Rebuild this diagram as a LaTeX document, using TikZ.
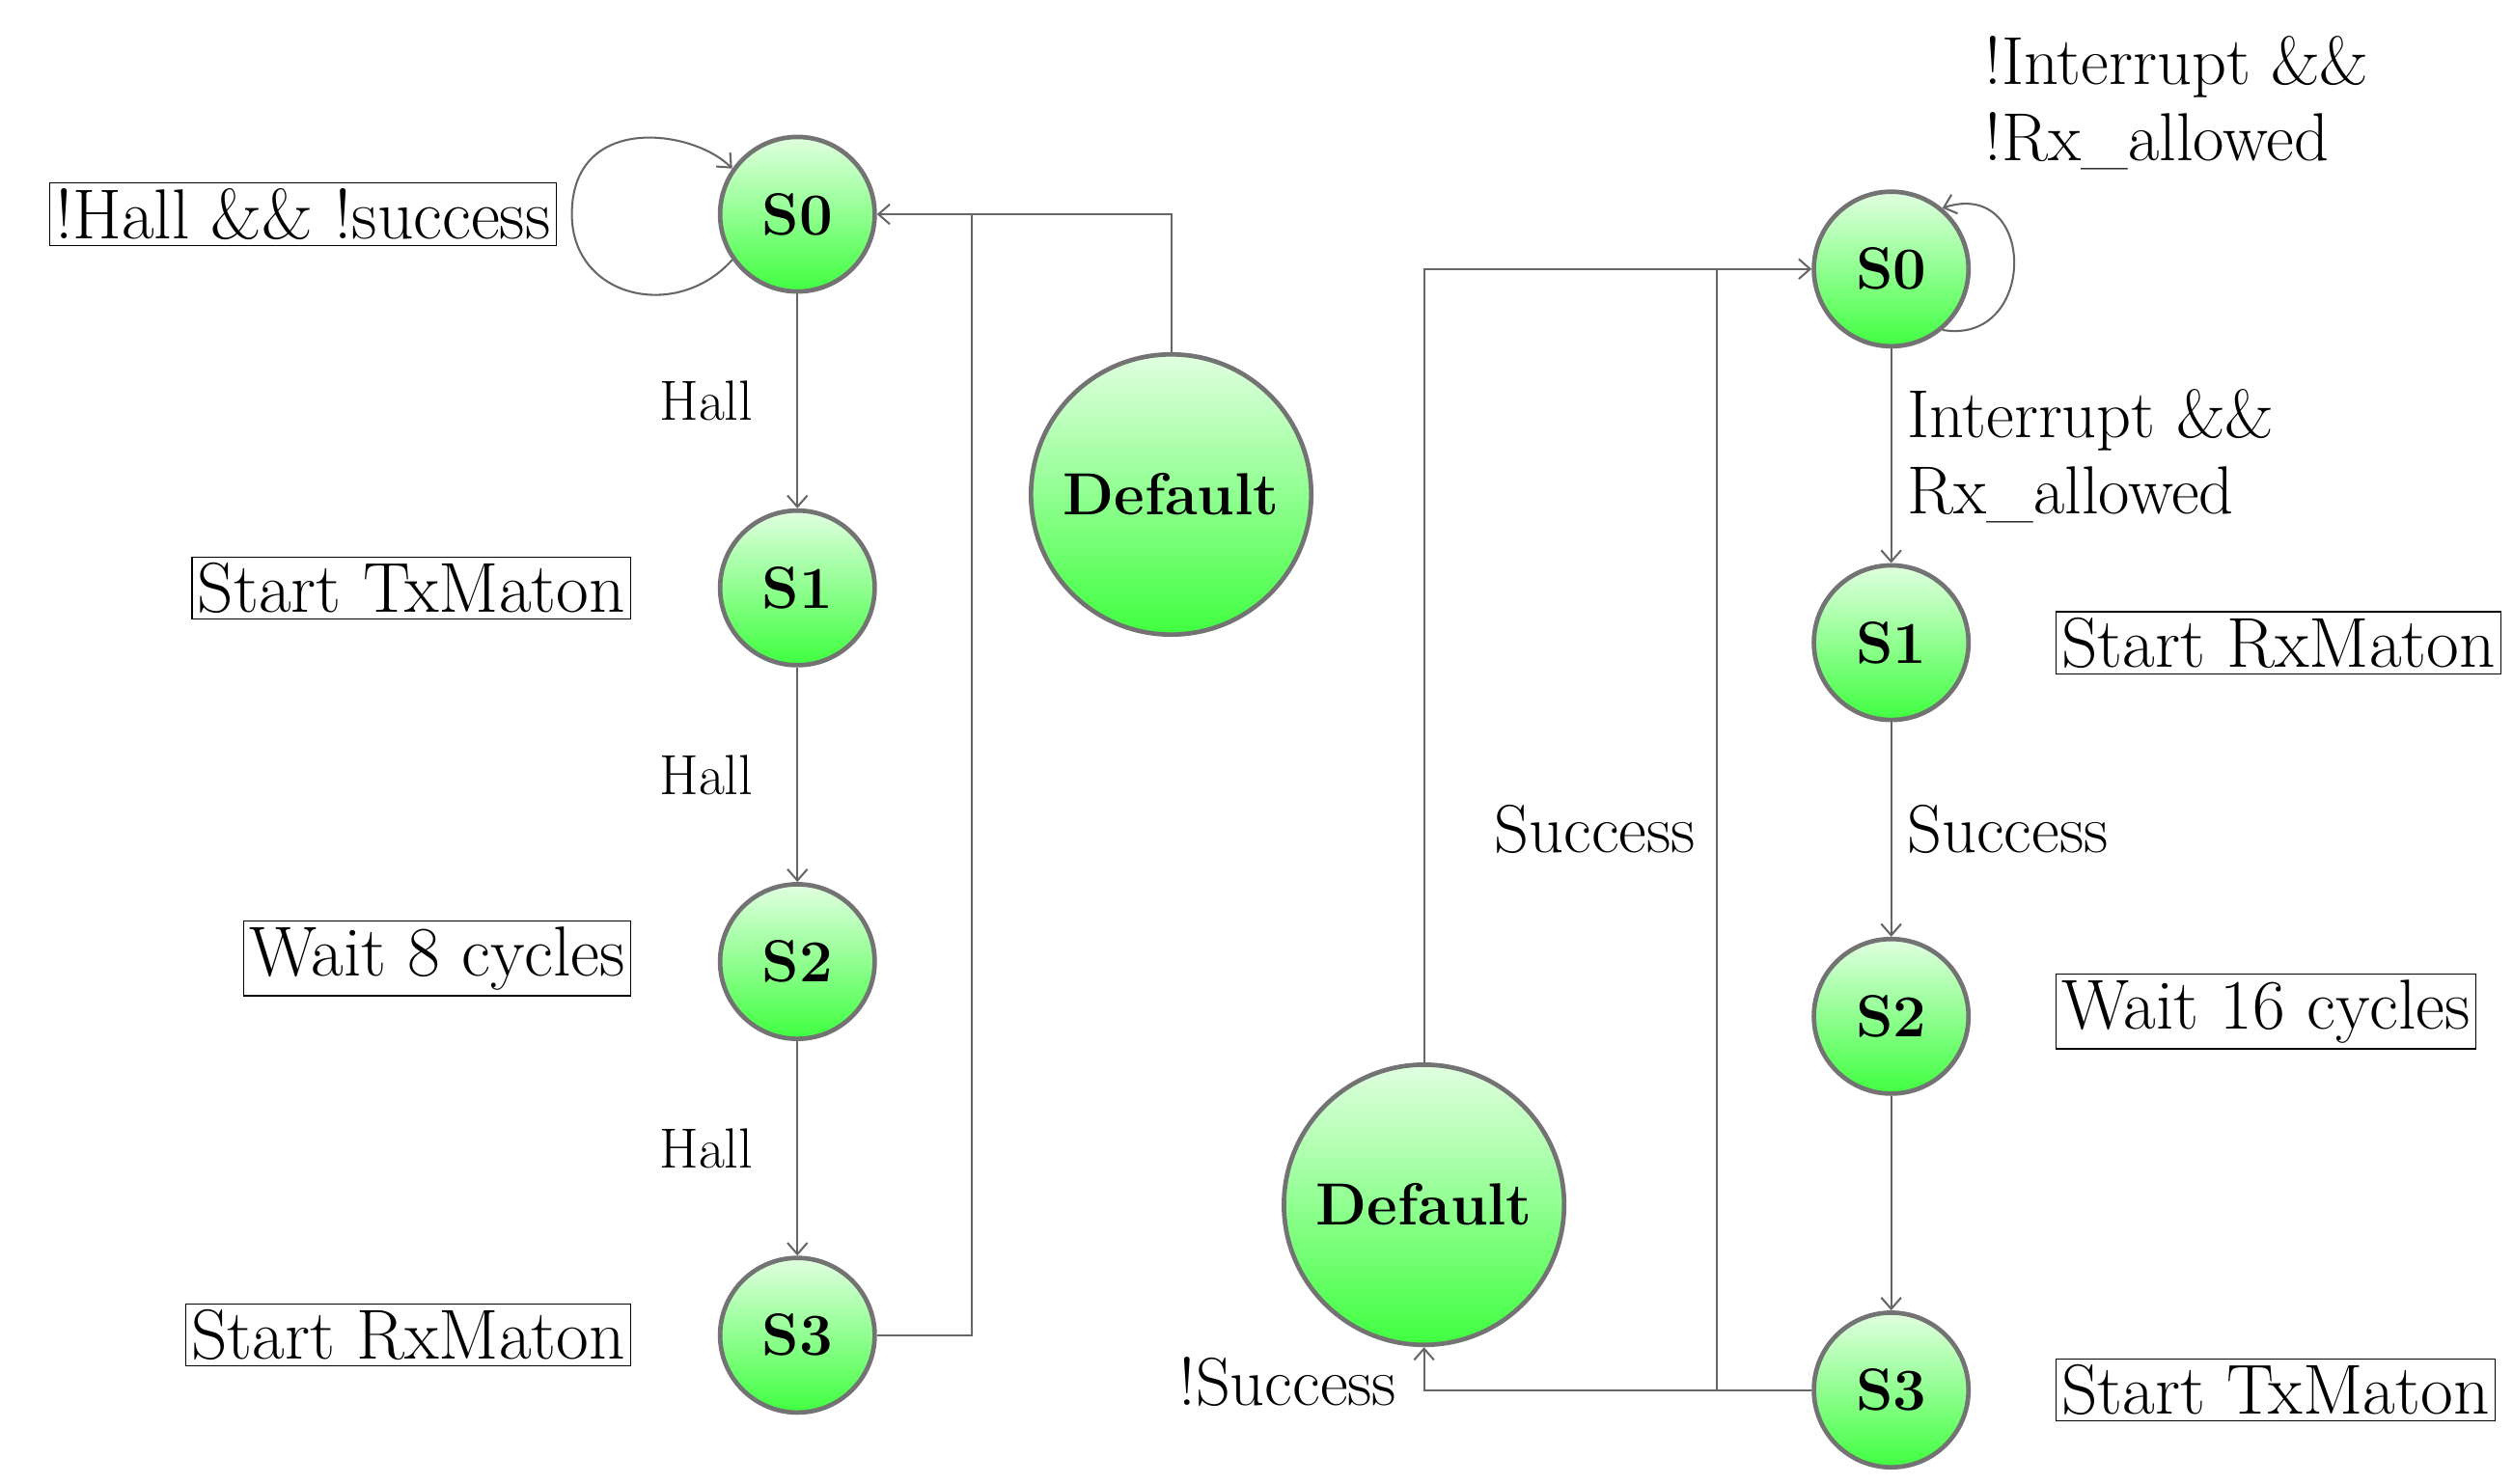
\documentclass[tikz,border=0pt]{standalone}
\usetikzlibrary{arrows.meta,shadings}
\begin{document}
\begin{tikzpicture}[x=0.02cm,y=-0.02cm,
 st/.style={circle,draw=black!55,line width=1.6pt,top color=green!12,bottom color=green!75,minimum size=1.92cm,inner sep=0pt,font=\fontsize{21}{24}\selectfont\bfseries},
 big/.style={st,minimum size=3.48cm},
 box/.style={draw,inner sep=2pt,font=\fontsize{25}{28}\selectfont},
 lbl/.style={font=\fontsize{20}{24}\selectfont},
 lbb/.style={font=\fontsize{24}{27}\selectfont,align=left},
 e/.style={draw=black!60,line width=0.7pt,-{Straight Barb[length=4pt,width=7pt]}},
 l/.style={draw=black!60,line width=0.7pt}]
\useasboundingbox (0,0) rectangle (1560,921);
% left
\node[st] (a0) at (495,133) {S0};
\node[st] (a1) at (495,365) {S1};
\node[st] (a2) at (495,597) {S2};
\node[st] (a3) at (495,829) {S3};
\node[big] (ad) at (727,307) {Default};
\node[box] (b0) at (188,133) {!Hall \&\& !success};
\node[box,anchor=east] (b1) at (392,365) {Start TxMaton};
\node[box,anchor=east] (b2) at (392,595) {Wait 8 cycles};
\node[box,anchor=east] (b3) at (392,829) {Start RxMaton};
\draw[e] (a0) -- node[lbl,left=12pt]{Hall} (a1);
\draw[e] (a1) -- node[lbl,left=12pt]{Hall} (a2);
\draw[e] (a2) -- node[lbl,left=12pt]{Hall} (a3);
\coordinate (ja) at (603,133);
\draw[l] (a3.east) -| (ja);
\draw[e] (ad.north) |- (a0.east);
\draw[e] (a0.215) .. controls (420,200) and (355,185) .. (355,133) .. controls (355,70) and (430,80) .. (a0.145);
% right
\node[st] (r0) at (1174,167) {S0};
\node[st] (r1) at (1174,399) {S1};
\node[st] (r2) at (1174,631) {S2};
\node[st] (r3) at (1174,863) {S3};
\node[big] (rd) at (884,748) {Default};
\node[box,anchor=west] (c1) at (1276,399) {Start RxMaton};
\node[box,anchor=west] (c2) at (1276,628) {Wait 16 cycles};
\node[box,anchor=west] (c3) at (1276,863) {Start TxMaton};
\node[lbb,anchor=west] (t0) at (1226,64) {!Interrupt \&\&\\!Rx\_allowed};
\draw[e] (r0) -- node[lbb,anchor=west,xshift=2pt]{Interrupt \&\&\\Rx\_allowed} (r1);
\draw[e] (r1) -- node[lbb,anchor=west,xshift=2pt]{Success} (r2);
\draw[e] (r2) -- (r3);
\coordinate (jb) at (1066,167);
\draw[l] (r3.west) -| node[lbb,pos=0.75,left=4pt]{Success} (jb);
\draw[e] (rd.north) |- (r0.west);
\draw[e] (r3.west) -| node[lbb,pos=0.6,left=6pt]{!Success} (rd.south);
\draw[e] (r0.-50) .. controls (1265,215) and (1265,110) .. (r0.50);
\end{tikzpicture}
\end{document}
